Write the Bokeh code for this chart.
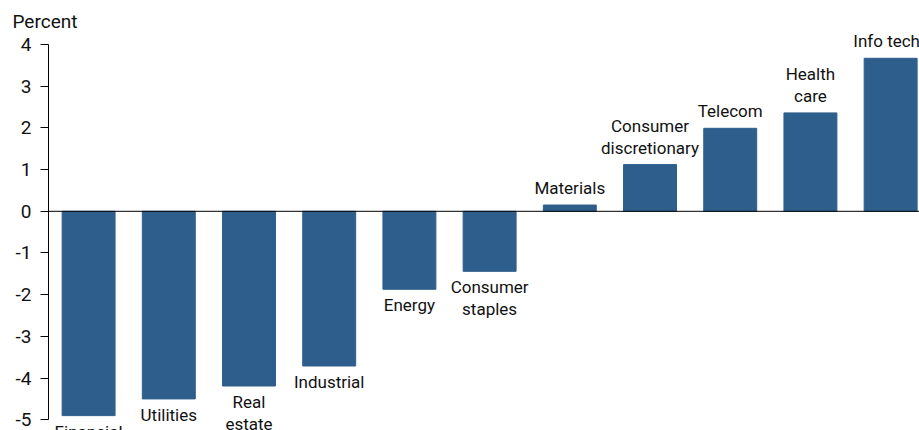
from bokeh.plotting import figure
from bokeh.models import ColumnDataSource, FixedTicker, Span, Range1d
from bokeh.core.properties import value
from bokeh.embed import file_html
from bokeh.resources import INLINE

sectors = ["Financial", "Utilities", "Real\nestate", "Industrial", "Energy",
           "Consumer\nstaples", "Materials", "Consumer\ndiscretionary",
           "Telecom", "Health\ncare", "Info tech"]
changes = [-4.90, -4.50, -4.19, -3.71, -1.87, -1.44, 0.15, 1.12, 1.99, 2.36, 3.67]
y_ticks = [-5, -4, -3, -2, -1, 0, 1, 2, 3, 4]
y_label = "Percent"

FONT = "Roboto"
BAR = "#2e5e8c"
TXT = "#111111"

xs = list(range(len(sectors)))
# nudge the last (right-most) label slightly left so it stays inside the canvas
xoff = [0] * len(sectors)
xoff[-1] = -4


def subset(cond):
    idx = [i for i in xs if cond(changes[i])]
    return ColumnDataSource(dict(x=[xs[i] for i in idx], y=[changes[i] for i in idx],
                                 t=[sectors[i] for i in idx], xo=[xoff[i] for i in idx]))


src = ColumnDataSource(dict(x=xs, top=changes))
src_pos = subset(lambda v: v >= 0)
src_neg = subset(lambda v: v < 0)

standoff = 14
frame_top = 25.5 + standoff  # px estimate of title panel height
px_per_unit = 41.64
y_end = 4 + (44.5 - frame_top) / px_per_unit
y_start = -5 - (430 - 419.3) / px_per_unit

p = figure(width=919, height=430, output_backend="svg", toolbar_location=None,
           x_range=Range1d(-0.5, 10.36), y_range=Range1d(y_start, y_end),
           min_border_left=48, min_border_right=0, min_border_top=0, min_border_bottom=0)
p.outline_line_color = None
p.xgrid.visible = False
p.ygrid.visible = False
p.xaxis.visible = False

p.title.text = y_label
p.title.align = "left"
p.title.offset = -36
p.title.standoff = standoff
p.title.text_font = FONT
p.title.text_font_size = "19px"
p.title.text_font_style = "normal"
p.title.text_color = TXT

ax = p.yaxis[0]
ax.ticker = FixedTicker(ticks=y_ticks)
ax.major_label_overrides = {t: str(t) for t in y_ticks}
ax.bounds = (-5, 4)
ax.axis_line_color = "black"
ax.axis_line_width = 1
ax.major_tick_line_color = "black"
ax.major_tick_in = 0
ax.major_tick_out = 8
ax.minor_tick_line_color = None
ax.major_label_text_font = FONT
ax.major_label_text_font_size = "19px"
ax.major_label_text_color = TXT
ax.major_label_standoff = 9

p.vbar(x="x", top="top", bottom=0, width=0.66, source=src, fill_color=BAR, line_color=BAR)

p.add_layout(Span(location=0, dimension="width", line_color="black", line_width=1))

p.text(x="x", y="y", text="t", x_offset="xo", source=src_pos, text_align="center",
       text_baseline="bottom", y_offset=-7, text_font=value(FONT), text_font_size="17px",
       text_color=TXT, text_line_height=1.1, level="overlay")
p.text(x="x", y="y", text="t", x_offset="xo", source=src_neg, text_align="center",
       text_baseline="top", y_offset=6, text_font=value(FONT), text_font_size="17px",
       text_color=TXT, text_line_height=1.1, level="overlay")

open("out.html", "w").write(file_html(p, INLINE))
